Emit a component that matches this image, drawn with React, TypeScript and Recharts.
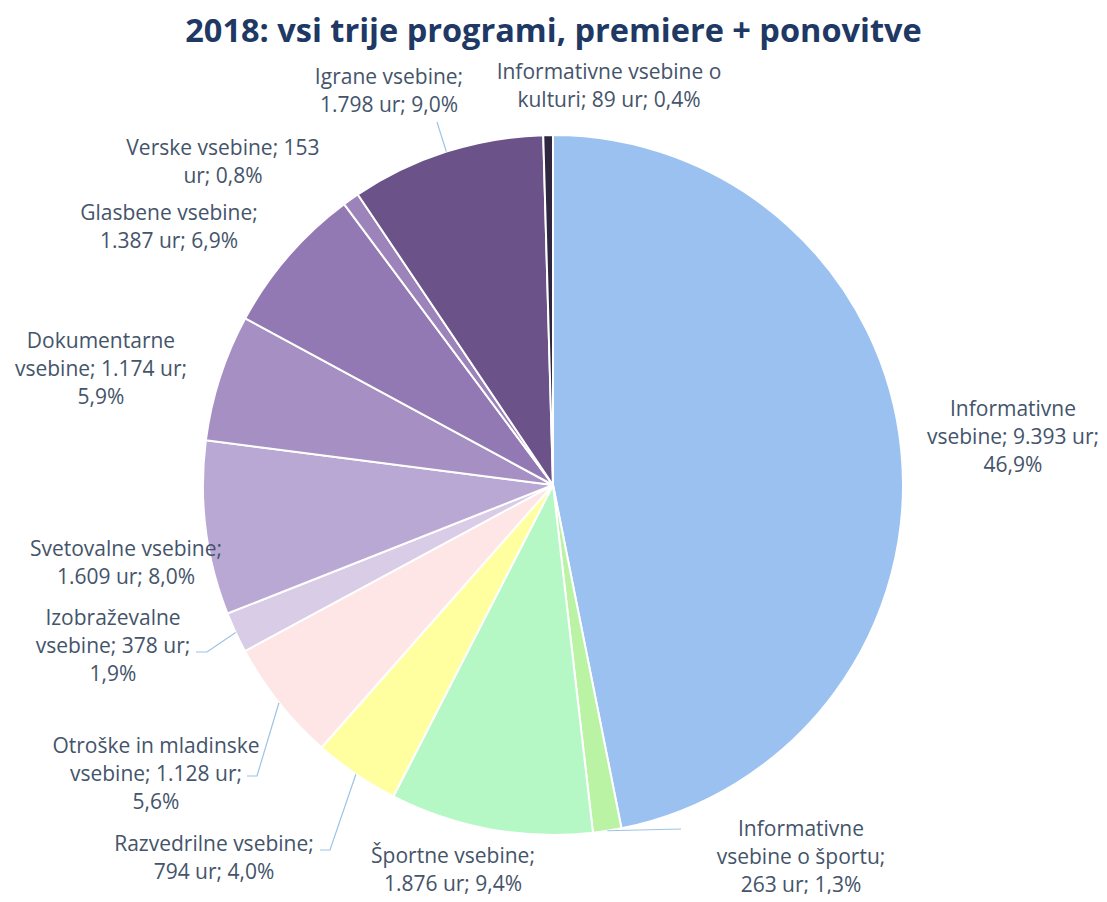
import { PieChart, Pie, Cell } from 'recharts'

const CATEGORIES = [
  'Informativne vsebine',
  'Informativne vsebine o športu',
  'Športne vsebine',
  'Razvedrilne vsebine',
  'Otroške in mladinske vsebine',
  'Izobraževalne vsebine',
  'Svetovalne vsebine',
  'Dokumentarne vsebine',
  'Glasbene vsebine',
  'Verske vsebine',
  'Igrane vsebine',
  'Informativne vsebine o kulturi',
]

const HOURS = [9393, 263, 1876, 794, 1128, 378, 1609, 1174, 1387, 153, 1798, 89]

// besedila oznak, razbita v vrstice kot na sliki
const LABEL_LINES = [
  ['Informativne', 'vsebine; 9.393 ur;', '46,9%'],
  ['Informativne', 'vsebine o športu;', '263 ur; 1,3%'],
  ['Športne vsebine;', '1.876 ur; 9,4%'],
  ['Razvedrilne vsebine;', '794 ur; 4,0%'],
  ['Otroške in mladinske', 'vsebine; 1.128 ur;', '5,6%'],
  ['Izobraževalne', 'vsebine; 378 ur;', '1,9%'],
  ['Svetovalne vsebine;', '1.609 ur; 8,0%'],
  ['Dokumentarne', 'vsebine; 1.174 ur;', '5,9%'],
  ['Glasbene vsebine;', '1.387 ur; 6,9%'],
  ['Verske vsebine; 153', 'ur; 0,8%'],
  ['Igrane vsebine;', '1.798 ur; 9,0%'],
  ['Informativne vsebine o', 'kulturi; 89 ur; 0,4%'],
]

const COLORS = [
  '#9bc1f1',
  '#b9f3a3',
  '#b5f8c6',
  '#ffff9f',
  '#ffe6e6',
  '#d9cce6',
  '#baa8d4',
  '#a68fc3',
  '#9379b3',
  '#9c84bb',
  '#6b5288',
  '#2f2640',
]

// pozicija oznak glede na središče torte (dx, dy prve vrstice)
const LABEL_POS: [number, number][] = [
  [460, -77],
  [248, 343],
  [-100, 370],
  [-339, 358],
  [-397, 260],
  [-440, 132],
  [-427, 63],
  [-452, -145],
  [-384, -273],
  [-330, -338],
  [-164, -409],
  [56, -414],
]

// povezovalne črte: lomna točka in konec (relativno na središče)
const LEADERS: ([number, number][] | null)[] = [
  null,
  [[128, 344]],
  null,
  [[-223, 365], [-233, 365]],
  [[-296, 291], [-306, 291]],
  [[-346, 167], [-357, 167]],
  null,
  null,
  null,
  null,
  [[-116, -363]],
  null,
]

const data = CATEGORIES.map((name, i) => ({ name, value: HOURS[i] }))

const RAD = Math.PI / 180
const LINE_H = 28

function renderLabel(props: any) {
  const { cx, cy, midAngle, outerRadius, index } = props
  const [dx, dy] = LABEL_POS[index]
  const lines = LABEL_LINES[index]
  const leader = LEADERS[index]
  let path = null
  if (leader) {
    const sx = cx + outerRadius * Math.cos(-midAngle * RAD)
    const sy = cy + outerRadius * Math.sin(-midAngle * RAD)
    const pts = [[sx, sy], ...leader.map(([px, py]) => [cx + px, cy + py])]
    path = (
      <polyline
        points={pts.map((p) => p.join(',')).join(' ')}
        fill="none"
        stroke="#9dc3e6"
        strokeWidth={1.2}
      />
    )
  }
  return (
    <g key={`lbl-${index}`}>
      {path}
      <text
        x={cx + dx}
        y={cy + dy}
        textAnchor="middle"
        fill="#44546a"
        fontFamily="'Open Sans', sans-serif"
        fontSize={21}
      >
        {lines.map((t, i) => (
          <tspan key={i} x={cx + dx} y={cy + dy + i * LINE_H} dominantBaseline="central">
            {t}
          </tspan>
        ))}
      </text>
    </g>
  )
}

export default function App() {
  return (
    <div style={{ margin: -8, width: 1107, height: 902, background: '#fff', position: 'relative' }}>
      <div
        style={{
          position: 'absolute',
          top: 10,
          left: 0,
          width: 1107,
          textAlign: 'center',
          fontFamily: "'Open Sans', sans-serif",
          fontWeight: 700,
          fontSize: 32.5,
          color: '#203864',
          lineHeight: '40px',
        }}
      >
        2018: vsi trije programi, premiere + ponovitve
      </div>
      <PieChart width={1107} height={902} margin={{ top: 0, right: 0, bottom: 0, left: 0 }}>
        <Pie
          data={data}
          dataKey="value"
          nameKey="name"
          cx={553}
          cy={485}
          outerRadius={350}
          startAngle={90}
          endAngle={-270}
          stroke="#ffffff"
          strokeWidth={2}
          label={renderLabel}
          labelLine={false}
          isAnimationActive={false}
        >
          {data.map((entry, index) => (
            <Cell key={`cell-${index}`} fill={COLORS[index]} />
          ))}
        </Pie>
      </PieChart>
    </div>
  )
}
